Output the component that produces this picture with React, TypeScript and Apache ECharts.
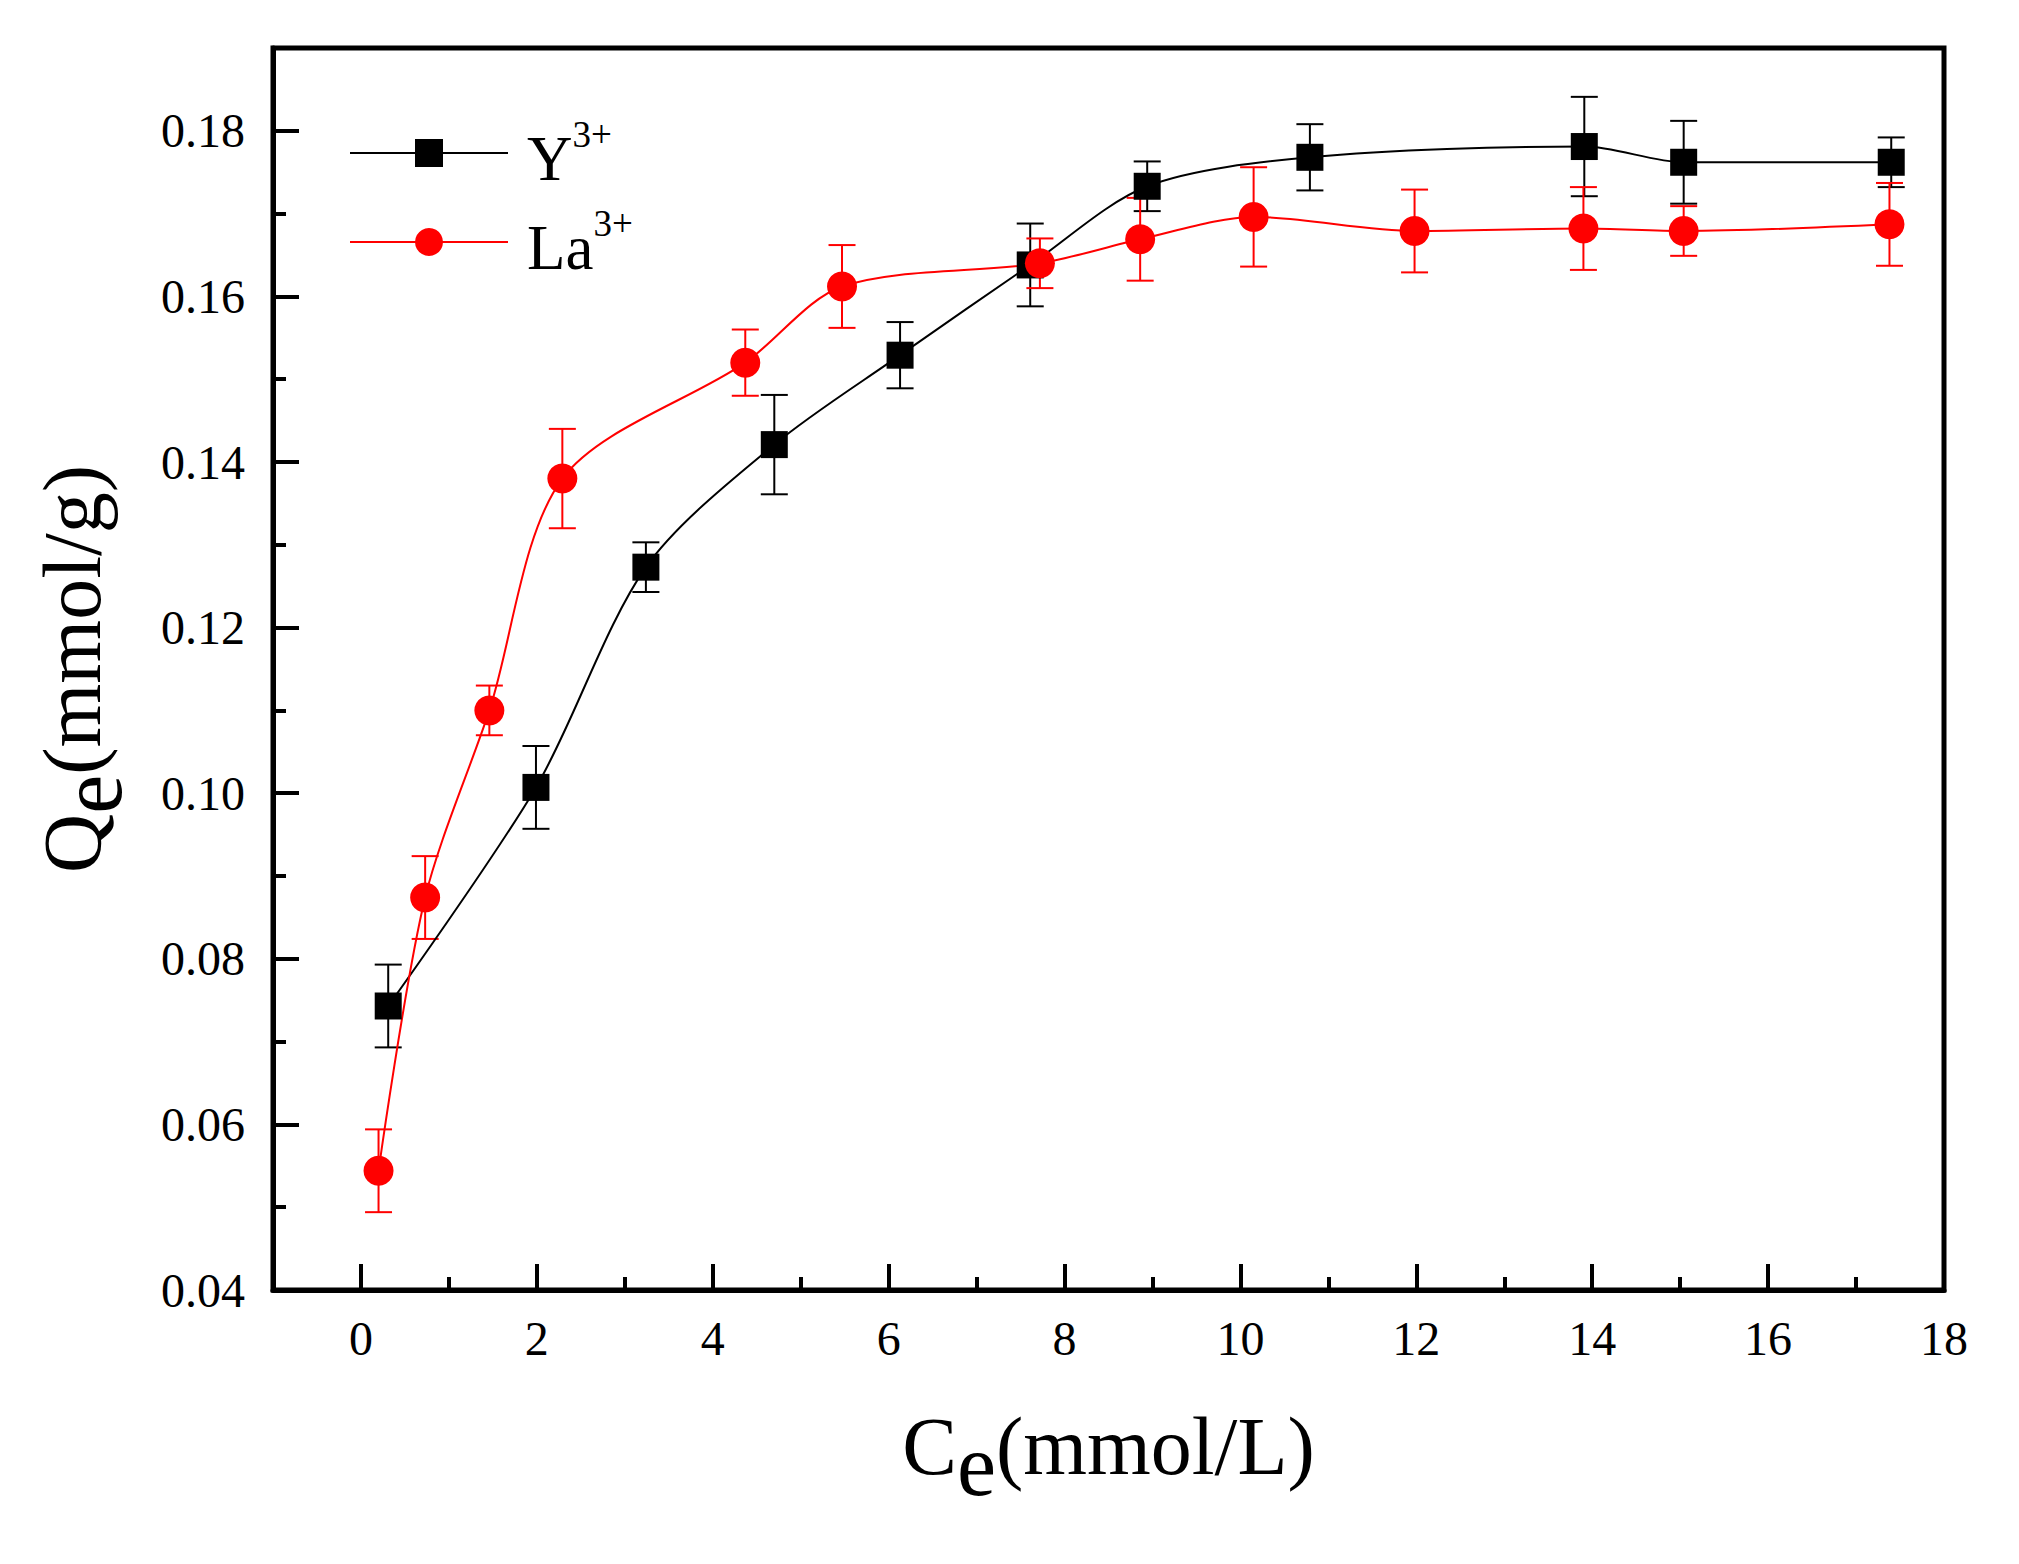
import React, { useEffect, useRef } from "react";
import * as echarts from "echarts";

// ---- data ----
const yCe = [0.31, 1.99, 3.24, 4.70, 6.13, 7.61, 8.94, 10.79, 13.91, 15.04, 17.40];
const yQe = [0.0743, 0.1007, 0.1273, 0.1421, 0.1529, 0.1638, 0.1733, 0.1768, 0.1781, 0.1762, 0.1762];
const yErr = [0.005, 0.005, 0.003, 0.006, 0.004, 0.005, 0.003, 0.004, 0.006, 0.005, 0.003];

const laCe = [0.20, 0.73, 1.46, 2.29, 4.37, 5.47, 7.72, 8.86, 10.15, 11.98, 13.90, 15.04, 17.38];
const laQe = [0.0544, 0.0874, 0.1100, 0.1380, 0.1520, 0.1612, 0.1640, 0.1669, 0.1696, 0.1679, 0.1682, 0.1679, 0.1687];
const laErr = [0.005, 0.005, 0.003, 0.006, 0.004, 0.005, 0.003, 0.005, 0.006, 0.005, 0.005, 0.003, 0.005];

const xMajor = [0, 2, 4, 6, 8, 10, 12, 14, 16, 18];
const xMinor = [1, 3, 5, 7, 9, 11, 13, 15, 17];
const yMajor = [0.04, 0.06, 0.08, 0.10, 0.12, 0.14, 0.16, 0.18];
const yMinor = [0.05, 0.07, 0.09, 0.11, 0.13, 0.15, 0.17];

const seriesNames = ["Y3+", "La3+"];
const legendLabels: Record<string, string> = { "Y3+": "{a|Y}{s|3+}", "La3+": "{a|La}{s|3+}" };

const FONT = "'Liberation Serif', 'Times New Roman', serif";

function errorBars(color: string) {
  return (params: any, api: any) => {
    const x = api.value(0);
    const y = api.value(1);
    const e = api.value(2);
    const top = api.coord([x, y + e]);
    const bot = api.coord([x, y - e]);
    const hw = 13.5;
    const st = { stroke: color, lineWidth: 2 };
    return {
      type: "group",
      children: [
        { type: "line", shape: { x1: top[0], y1: top[1], x2: bot[0], y2: bot[1] }, style: st },
        { type: "line", shape: { x1: top[0] - hw, y1: top[1], x2: top[0] + hw, y2: top[1] }, style: st },
        { type: "line", shape: { x1: bot[0] - hw, y1: bot[1], x2: bot[0] + hw, y2: bot[1] }, style: st },
      ],
    };
  };
}

export default function App() {
  const ref = useRef<HTMLDivElement>(null);
  useEffect(() => {
    document.body.style.margin = "0";
    const chart = echarts.init(ref.current!, null, { renderer: "svg" });
    const legendBase: any = {
      orient: "vertical",
      left: 349,
      itemWidth: 158,
      itemHeight: 35,
      padding: 0,
      itemGap: 0,
      formatter: (n: string) => legendLabels[n],
      textStyle: {
        fontFamily: FONT,
        color: "#000",
        rich: {
          a: { fontFamily: FONT, fontSize: 63, color: "#000", padding: [12, 0, 0, 14] },
          s: { fontFamily: FONT, fontSize: 37, color: "#000", padding: [0, 0, 37, 0] },
        },
      },
    };
    const axisLine = { show: true, onZero: false, lineStyle: { color: "#000", width: 5 } };
    const nameStyle = {
      fontFamily: FONT,
      fontSize: 82,
      color: "#000",
      rich: {
        m: { fontFamily: FONT, fontSize: 82, color: "#000" },
        s: { fontFamily: FONT, fontSize: 88, color: "#000", padding: [38, 0, 0, 0] },
      },
    };
    chart.setOption({
      animation: false,
      backgroundColor: "#fff",
      textStyle: { fontFamily: FONT },
      grid: {
        left: 273,
        right: 75,
        top: 48,
        bottom: 274,
        show: true,
        borderColor: "#000",
        borderWidth: 5,
        backgroundColor: "transparent",
      },
      legend: [
        { ...legendBase, top: 116, data: [seriesNames[0]] },
        { ...legendBase, top: 205, data: [seriesNames[1]] },
      ],
      xAxis: [
        {
          type: "value",
          min: -1,
          max: 18,
          axisLine,
          splitLine: { show: false },
          axisTick: { show: true, inside: true, length: 26, lineStyle: { width: 4, color: "#000" }, customValues: xMajor },
          axisLabel: { customValues: xMajor, fontSize: 48, fontFamily: FONT, color: "#000", margin: 24 },
          name: "{m|C}{s|e}{m|(mmol/L)}",
          nameLocation: "middle",
          nameGap: 93,
          nameTextStyle: nameStyle,
        },
        {
          type: "value",
          min: -1,
          max: 18,
          position: "bottom",
          axisLine: { show: false, onZero: false },
          splitLine: { show: false },
          axisTick: { show: true, inside: true, length: 13, lineStyle: { width: 4, color: "#000" }, customValues: xMinor },
          axisLabel: { show: false },
        },
      ],
      yAxis: [
        {
          type: "value",
          min: 0.04,
          max: 0.19,
          axisLine,
          splitLine: { show: false },
          axisTick: { show: true, inside: true, length: 26, lineStyle: { width: 4, color: "#000" }, customValues: yMajor },
          axisLabel: {
            customValues: yMajor,
            fontSize: 48,
            fontFamily: FONT,
            color: "#000",
            margin: 28,
            formatter: (v: number) => v.toFixed(2),
          },
          name: "{m|Q}{s|e}{m|(mmol/g)}",
          nameLocation: "middle",
          nameGap: 138,
          nameTextStyle: nameStyle,
        },
        {
          type: "value",
          min: 0.04,
          max: 0.19,
          position: "left",
          axisLine: { show: false, onZero: false },
          splitLine: { show: false },
          axisTick: { show: true, inside: true, length: 13, lineStyle: { width: 4, color: "#000" }, customValues: yMinor },
          axisLabel: { show: false },
        },
      ],
      series: [
        {
          name: seriesNames[0],
          type: "line",
          smooth: 0.3,
          data: yCe.map((x, i) => [x, yQe[i]]),
          symbol: "rect",
          symbolSize: 27,
          lineStyle: { color: "#000", width: 2 },
          itemStyle: { color: "#000" },
        },
        {
          type: "custom",
          name: "Y err",
          renderItem: errorBars("#000"),
          data: yCe.map((x, i) => [x, yQe[i], yErr[i]]),
          encode: { x: 0, y: 1 },
          silent: true,
        },
        {
          name: seriesNames[1],
          type: "line",
          smooth: 0.3,
          data: laCe.map((x, i) => [x, laQe[i]]),
          symbol: "circle",
          symbolSize: 30,
          lineStyle: { color: "#ff0000", width: 2 },
          itemStyle: { color: "#ff0000" },
        },
        {
          type: "custom",
          name: "La err",
          renderItem: errorBars("#ff0000"),
          data: laCe.map((x, i) => [x, laQe[i], laErr[i]]),
          encode: { x: 0, y: 1 },
          silent: true,
        },
      ],
    });
    return () => chart.dispose();
  }, []);
  return <div ref={ref} style={{ width: 2019, height: 1564 }} />;
}
